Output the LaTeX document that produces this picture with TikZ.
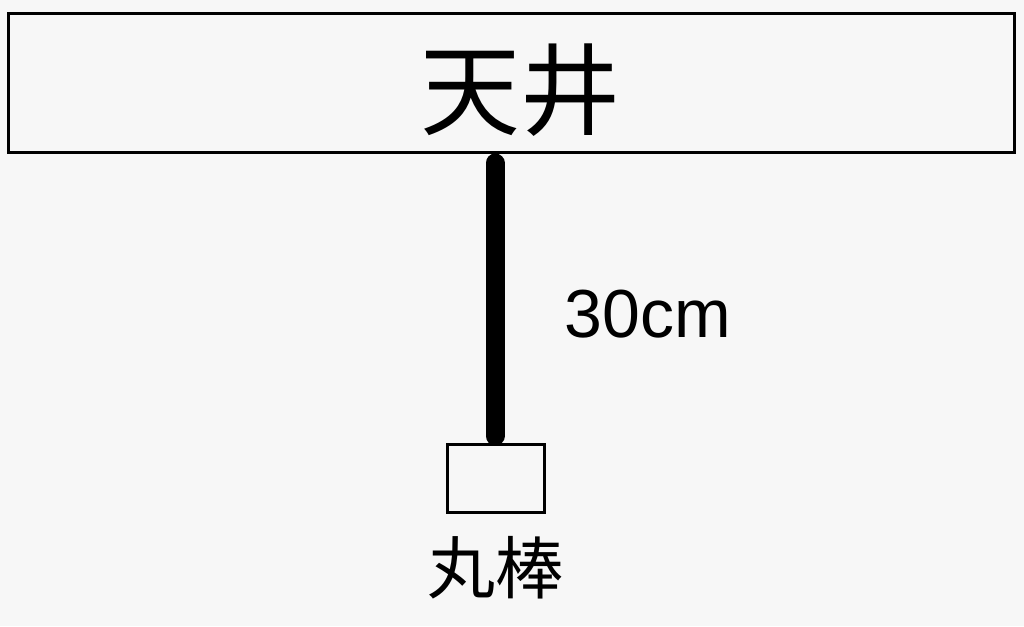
\documentclass[tikz,border=0pt]{standalone}
\usepackage{fontspec}
\setmainfont{Liberation Sans}
\newfontfamily\cjk{Noto Sans CJK JP}
\definecolor{bg}{RGB}{247,247,247}
\begin{document}
\begin{tikzpicture}[x=1pt,y=-1pt,
  frame/.style={draw=black,line width=3pt,fill=bg},
  rope/.style={line width=19pt,line cap=round},
  lbl/.style={inner sep=0pt,anchor=center}]
\fill[bg] (0,0) rectangle (1024,626);
\useasboundingbox (0,0) rectangle (1024,626);
\node[frame,minimum width=1006pt,minimum height=139pt,inner sep=0pt] (ceil) at (511,83) {};
\node[lbl] (ceiltxt) at (520,90) {\cjk\fontsize{100pt}{100pt}\selectfont 天井};
\node[frame,minimum width=97pt,minimum height=68pt,inner sep=0pt] (rod) at (496,478.5) {};
\coordinate (ropetop) at (495,163);
\coordinate (ropebot) at (495,436);
\draw[rope] (ropetop) -- (ropebot);
\node[lbl] (len) at (648,314) {\fontsize{68pt}{68pt}\selectfont 30cm};
\node[lbl] (rodtxt) at (495,568) {\cjk\fontsize{68pt}{68pt}\selectfont 丸棒};
\end{tikzpicture}
\end{document}
